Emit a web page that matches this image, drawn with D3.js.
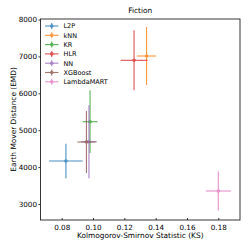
<!DOCTYPE html>
<html>
<head>
<meta charset="utf-8">
<script src="https://cdn.jsdelivr.net/npm/d3@7"></script>
<style>
  body { margin: 0; background: #fff; }
  svg { display: block; font-family: "DejaVu Sans", sans-serif; }
</style>
</head>
<body>
<div id="chart"></div>
<script>
const WIDTH = 249;
const HEIGHT = 249;

const models = ['L2P', 'kNN', 'KR', 'HLR', 'NN', 'XGBoost', 'LambdaMART'];
const ksMean = [0.0827, 0.1342, 0.0981, 0.1262, 0.0974, 0.0958, 0.1800];
const ksErr = [0.0107, 0.0061, 0.0048, 0.0086, 0.0050, 0.0058, 0.0080];
const emdMean = [4165, 7011, 5230, 6894, 4688, 4680, 3352];
const emdErr = [470, 786, 850, 813, 990, 840, 534];
const colors = ['#1f77b4', '#ff7f0e', '#2ca02c', '#d62728', '#9467bd', '#8c564b', '#e377c2'];

const xTicks = [0.08, 0.10, 0.12, 0.14, 0.16, 0.18];
const yTicks = [3000, 4000, 5000, 6000, 7000, 8000];

const LEFT = 40.5;
const RIGHT = 240;
const TOP = 19;
const BOTTOM = 220;

const svg = d3.select('#chart').append('svg')
  .attr('width', WIDTH)
  .attr('height', HEIGHT);

const xScale = d3.scaleLinear()
  .domain([0.06646, 0.19386])
  .range([LEFT, RIGHT]);

const yScale = d3.scaleLinear()
  .domain([2566, 8014])
  .range([BOTTOM, TOP]);

const points = models.map((m, i) => ({
  name: m, x: ksMean[i], xe: ksErr[i], y: emdMean[i], ye: emdErr[i], color: colors[i]
}));

// error bars
const bars = svg.append('g').attr('id', 'bars');
points.forEach(d => {
  const g = bars.append('g').attr('opacity', 0.8);
  g.append('line')
    .attr('x1', xScale(d.x - d.xe)).attr('x2', xScale(d.x + d.xe))
    .attr('y1', yScale(d.y)).attr('y2', yScale(d.y))
    .attr('stroke', d.color).attr('stroke-width', 1.1);
  g.append('line')
    .attr('x1', xScale(d.x)).attr('x2', xScale(d.x))
    .attr('y1', yScale(d.y - d.ye)).attr('y2', yScale(d.y + d.ye))
    .attr('stroke', d.color).attr('stroke-width', 1.1);
  g.append('circle')
    .attr('cx', xScale(d.x)).attr('cy', yScale(d.y))
    .attr('r', 1.8).attr('fill', d.color);
});

// axes
const xAxis = svg.append('g')
  .attr('transform', `translate(0,${BOTTOM})`)
  .call(d3.axisBottom(xScale).tickValues(xTicks).tickFormat(d3.format('.2f')).tickSizeInner(-2).tickSizeOuter(0));
xAxis.select('.domain').remove();
xAxis.selectAll('text').attr('y', 5).attr('font-size', 7.2).attr('fill', '#000').attr('font-family', 'DejaVu Sans');
xAxis.selectAll('line').attr('stroke', '#000').attr('stroke-width', 0.8);

const yAxis = svg.append('g')
  .attr('transform', `translate(${LEFT},0)`)
  .call(d3.axisLeft(yScale).tickValues(yTicks).tickFormat(d3.format('d')).tickSizeInner(2).tickSizeOuter(0).tickPadding(1.5));
yAxis.select('.domain').remove();
yAxis.selectAll('text').attr('font-size', 7.2).attr('fill', '#000').attr('font-family', 'DejaVu Sans');
yAxis.selectAll('line').attr('stroke', '#000').attr('stroke-width', 0.8);

// frame
svg.append('rect')
  .attr('x', LEFT).attr('y', TOP)
  .attr('width', RIGHT - LEFT).attr('height', BOTTOM - TOP)
  .attr('fill', 'none').attr('stroke', '#222').attr('stroke-width', 0.9);

// labels
svg.append('text')
  .attr('x', (LEFT + RIGHT) / 2).attr('y', 13)
  .attr('text-anchor', 'middle').attr('font-size', 7.4)
  .text('Fiction');

svg.append('text')
  .attr('x', (LEFT + RIGHT) / 2).attr('y', 238)
  .attr('text-anchor', 'middle').attr('font-size', 7.4)
  .text('Kolmogorov-Smirnov Statistic (KS)');

svg.append('text')
  .attr('transform', `translate(16,${(TOP + BOTTOM) / 2}) rotate(-90)`)
  .attr('text-anchor', 'middle').attr('font-size', 7.4)
  .text('Earth Mover Distance (EMD)');

// legend
const legend = svg.append('g').attr('id', 'legend');
points.forEach((d, i) => {
  const y = 26 + i * 9.3;
  const g = legend.append('g').attr('opacity', 0.8);
  g.append('line')
    .attr('x1', 45).attr('x2', 58.5).attr('y1', y).attr('y2', y)
    .attr('stroke', d.color).attr('stroke-width', 1.1);
  g.append('line')
    .attr('x1', 51.75).attr('x2', 51.75).attr('y1', y - 3).attr('y2', y + 3)
    .attr('stroke', d.color).attr('stroke-width', 1.1);
  g.append('circle')
    .attr('cx', 51.75).attr('cy', y).attr('r', 1.8).attr('fill', d.color);
  legend.append('text')
    .attr('x', 63.5).attr('y', y + 2.3)
    .attr('font-size', 6.5)
    .text(d.name);
});
</script>
</body>
</html>
